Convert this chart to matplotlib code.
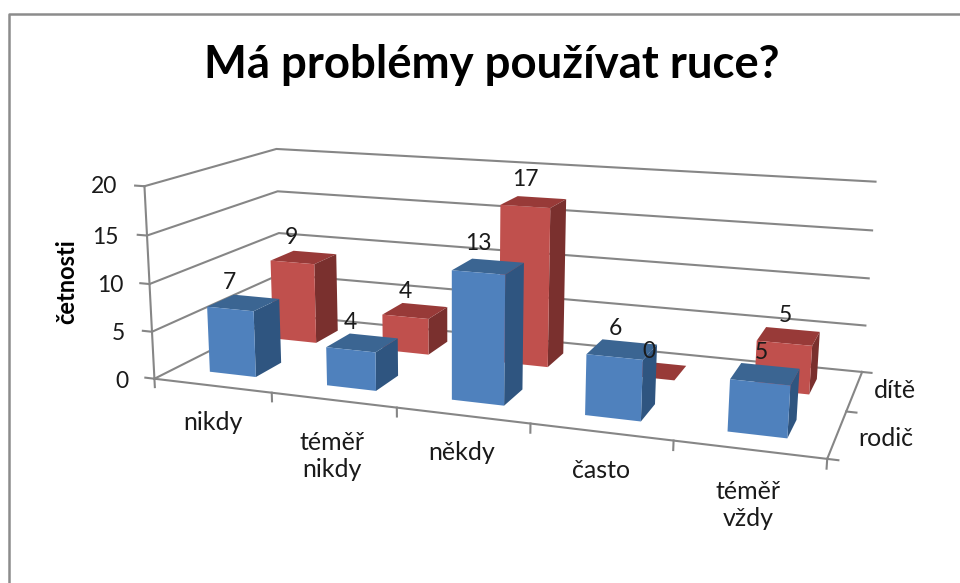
import numpy as np
import matplotlib
matplotlib.use("Agg")
import matplotlib.pyplot as plt
from matplotlib.lines import Line2D
from mpl_toolkits.mplot3d import proj3d

plt.rcParams['font.family'] = ['Lato', 'DejaVu Sans']

categories = ["nikdy", "téměř\nnikdy", "někdy", "často", "téměř\nvždy"]
series_names = ["rodič", "dítě"]
rodic = [7, 4, 13, 6, 5]
dite = [9, 4, 17, 0, 5]
z_ticks = [0, 5, 10, 15, 20]

W, H = 960, 583
fig = plt.figure(figsize=(W / 100, H / 100), dpi=100)
# mplot3d forces a square box, so make it a square as wide as the figure
ax = fig.add_axes([0, -(W - H) / 2 / H, 1, W / H], projection='3d', computed_zorder=False)
ax.set_axis_off()
# with persp Line3D drops every point with depth > 0, our own M below does the perspective
ax.set_proj_type('ortho')
ax.apply_aspect()

# the excel camera: box corners and wall lines as seen on the picture
world = np.array([
    [0, 0, 0], [0, 0, 20], [0, 2, 15], [0, 2, 20], [0, 2, 10],
    [5, 2, 0], [5, 2, 5], [5, 2, 10], [5, 2, 15], [5, 2, 20], [5, 0, 0], [0, 2, 0],
], dtype=float)
pixels = np.array([
    [156, 378], [143, 186], [278, 191], [278, 149], [278, 233],
    [862, 371], [866, 325], [869, 278], [872, 231], [875, 182], [827, 460], [280, 316],
], dtype=float)
pixels_up = np.column_stack([pixels[:, 0], H - pixels[:, 1]])
target = ax.transData.inverted().transform(pixels_up)

rows = []
for (x, y, z), (u, v) in zip(world, target):
    rows.append([x, y, z, 1, 0, 0, 0, 0, -u * x, -u * y, -u * z, -u])
    rows.append([0, 0, 0, 0, x, y, z, 1, -v * x, -v * y, -v * z, -v])
P = np.linalg.svd(np.array(rows))[2][-1].reshape(3, 4)
P = P / P[2, 3]
M = np.array([P[0], P[1], [0, 0.2, 0, 0], P[2]])
ax.get_proj = lambda: M

grey = '#868686'
line_kw = dict(color=grey, lw=1.5, zorder=1)

# walls and floor
for v in z_ticks:
    ax.plot([0, 0, 5], [0, 2, 2], [v, v, v], **line_kw)
    ax.plot([-0.08, 0], [0, 0], [v, v], **line_kw)
ax.plot([0, 0], [0, 0], [0, 20], **line_kw)
ax.plot([0, 5, 5], [0, 0, 2], [0, 0, 0], **line_kw)
for i in range(len(categories) + 1):
    ax.plot([i, i], [0, 0], [0, -0.9], **line_kw)
for j in range(len(series_names) + 1):
    ax.plot([5, 5.07], [j, j], [0, 0], **line_kw)

# front, top, right side
colors = {
    0: ('#4F81BD', '#3B6592', '#2F5580'),
    1: ('#C0504D', '#983A38', '#7A302E'),
}
none = (0, 0, 0, 0)
bar = 0.4
gap = (1 - bar) / 2

for j, vals in enumerate([rodic, dite]):
    front, top, side = colors[j]
    for i, v in enumerate(vals):
        # bar3d face order: -z, +z, -y, +y, -x, +x
        faces = [none, top, front, none, none, side]
        ax.bar3d(i + gap, j + gap, 0, bar, bar, v, color=faces, shade=False,
                 edgecolor='none', zorder=4 - j)
        tx, ty, _ = proj3d.proj_transform(i + 0.5, j + gap, v + 2.8, M)
        ax.text2D(tx, ty, str(v), transform=ax.transData, ha='center', va='center',
                  fontsize=16.5, color='#1a1a1a', zorder=6)

txt = dict(fontsize=18, color='#1a1a1a', ha='center', va='center')


def px_text(x, y, s, **kw):
    return fig.text(x / W, 1 - y / H, s, **{**txt, **kw})


px_text(492, 65, "Má problémy používat ruce?", fontsize=32.8, fontweight='bold', color='black')
px_text(67, 282, "četnosti", fontsize=17, fontweight='bold', rotation=90, color='black')

for lab, x, y in zip(z_ticks, [129, 125, 123, 119, 117], [381, 333, 285, 238, 187]):
    px_text(x, y, str(lab), ha='right', fontsize=16.5)
for lab, x, y in zip(categories, [213, 332, 462, 601, 748], [423, 456, 453, 471, 505]):
    px_text(x, y, lab, linespacing=1.2)
for lab, x, y in zip(series_names, [886, 895], [438, 391]):
    px_text(x, y, lab)

# outer chart frame
fig.add_artist(Line2D([8.5 / W, 8.5 / W, 1], [0, 1 - 13.5 / H, 1 - 13.5 / H],
                      transform=fig.transFigure, color='#8c8c8c', lw=1.8))

fig.savefig('out.png', dpi=100)
